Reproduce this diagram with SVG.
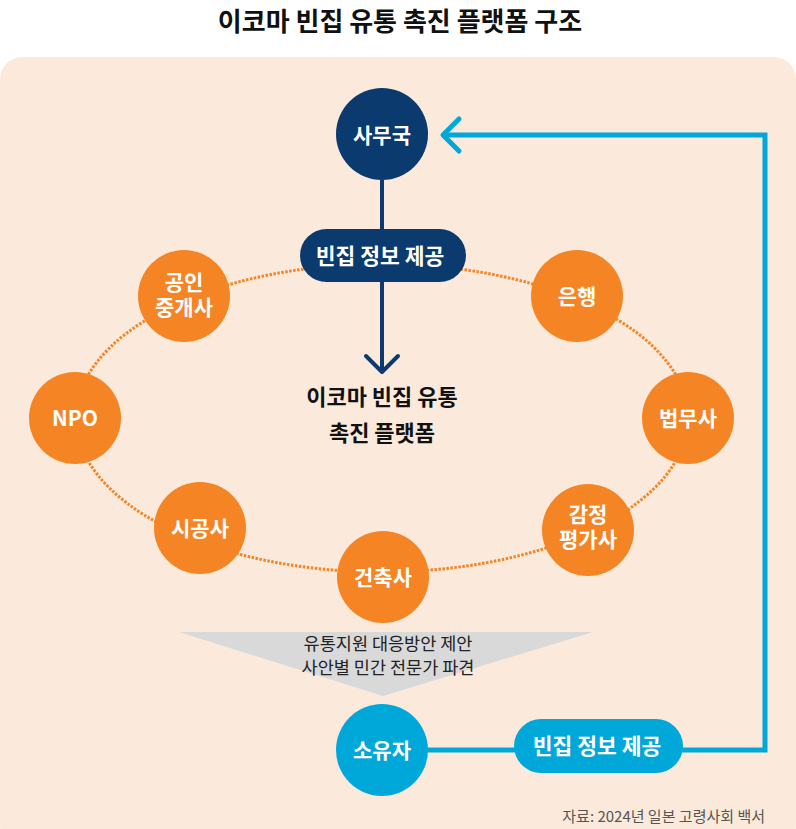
<svg xmlns="http://www.w3.org/2000/svg" width="796" height="829" viewBox="0 0 796 829">
<defs>
<style>
text{font-family:"Noto Sans CJK KR","Noto Sans",sans-serif;text-anchor:middle}
.title{font-size:26px;font-weight:700;fill:#111}
.nt{font-size:21px;font-weight:700;fill:#fff}
.pt{font-size:21.5px;font-weight:700;fill:#fff}
.ct{font-size:22px;font-weight:700;fill:#111}
.tri{font-size:17.5px;fill:#222}
.src{font-size:15px;fill:#555;text-anchor:end}
.orange{fill:#f58524}
.navy{fill:#0a3a6e}
.blue{fill:#00a8da}
</style>
</defs>
<rect x="0" y="0" width="796" height="829" fill="#ffffff"/>
<text class="title" x="400" y="31">이코마 빈집 유통 촉진 플랫폼 구조</text>
<rect x="0" y="57" width="796" height="790" rx="22" fill="#fbeadb"/>
<g id="connectors">
<ellipse cx="382" cy="418" rx="306" ry="154" fill="none" stroke="#f58524" stroke-width="3" stroke-dasharray="2.5 1.5"/>
<line x1="382" y1="180" x2="382" y2="371" stroke="#0a3a6e" stroke-width="4"/>
<polyline points="366,356 382,372 398,356" fill="none" stroke="#0a3a6e" stroke-width="4" stroke-linecap="round" stroke-linejoin="round"/>
<polyline points="428,750 765,750 765,135 444,135" fill="none" stroke="#00a8da" stroke-width="5"/>
<polyline points="459,119 443,135 459,151" fill="none" stroke="#00a8da" stroke-width="5" stroke-linecap="round" stroke-linejoin="round"/>
</g>
<g id="triangle">
<polygon points="179,632 593,632 383,696" fill="#d9d9d9"/>
<text class="tri" x="388" y="650"><tspan x="388">유통지원 대응방안 제안</tspan><tspan x="388" dy="24">사안별 민간 전문가 파견</tspan></text>
</g>
<g id="center">
<text class="ct" x="382" y="405"><tspan x="382">이코마 빈집 유통</tspan><tspan x="382" dy="36">촉진 플랫폼</tspan></text>
</g>
<g id="n-samuguk"><circle class="navy" cx="382" cy="134" r="46"/><text class="nt" x="382" y="143">사무국</text></g>
<g id="n-info1"><rect class="navy" x="300" y="229" width="166" height="53" rx="26.5"/><text class="pt" x="380" y="264">빈집 정보 제공</text></g>
<g id="n-broker"><circle class="orange" cx="184" cy="296" r="46"/><text class="nt" x="184" y="290"><tspan x="184">공인</tspan><tspan x="184" dy="25">중개사</tspan></text></g>
<g id="n-bank"><circle class="orange" cx="577" cy="296" r="46"/><text class="nt" x="577" y="304">은행</text></g>
<g id="n-npo"><circle class="orange" cx="75" cy="418" r="46"/><text class="nt" x="75" y="426">NPO</text></g>
<g id="n-law"><circle class="orange" cx="688" cy="418" r="46"/><text class="nt" x="688" y="426">법무사</text></g>
<g id="n-constr"><circle class="orange" cx="200" cy="528" r="46"/><text class="nt" x="200" y="536">시공사</text></g>
<g id="n-apprais"><circle class="orange" cx="588" cy="530" r="46"/><text class="nt" x="588" y="522"><tspan x="588">감정</tspan><tspan x="588" dy="25">평가사</tspan></text></g>
<g id="n-arch"><circle class="orange" cx="383" cy="577" r="46"/><text class="nt" x="383" y="585">건축사</text></g>
<g id="n-owner"><circle class="blue" cx="382" cy="750" r="46"/><text class="nt" x="382" y="758">소유자</text></g>
<g id="n-info2"><rect class="blue" x="514" y="719" width="169" height="54" rx="27"/><text class="pt" x="597" y="754">빈집 정보 제공</text></g>
<text class="src" x="765" y="822">자료: 2024년 일본 고령사회 백서</text>
</svg>
